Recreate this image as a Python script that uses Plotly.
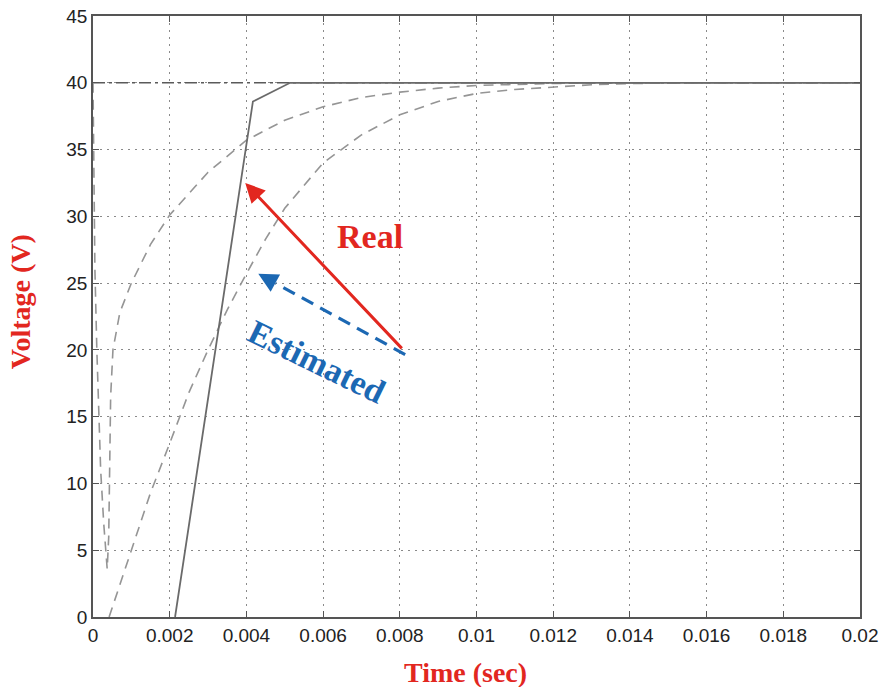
import plotly.graph_objects as go

# Time axis ticks (s) and voltage ticks (V)
x_ticks = [0, 0.002, 0.004, 0.006, 0.008, 0.01, 0.012, 0.014, 0.016, 0.018, 0.02]
x_tick_text = ["0", "0.002", "0.004", "0.006", "0.008", "0.01", "0.012", "0.014", "0.016", "0.018", "0.02"]
y_ticks = [0, 5, 10, 15, 20, 25, 30, 35, 40, 45]

# Reference voltage level
ref_t = [0, 0.02]
ref_v = [40, 40]

# Real output voltage
real_t = [0.00214, 0.00417, 0.00514, 0.02]
real_v = [0, 38.6, 40, 40]

# Fast estimate (with initial transient dip)
est1_t = [0.0, 0.00002, 0.00005, 0.0001, 0.00015, 0.0002, 0.00028, 0.00037, 0.00041,
          0.00043, 0.00046, 0.00052, 0.0007, 0.001, 0.0015, 0.002, 0.003, 0.004,
          0.005, 0.006, 0.007, 0.008, 0.009, 0.01, 0.012, 0.014, 0.02]
est1_v = [40, 33, 26, 20, 15, 11, 7, 3.6, 6,
          12, 16.5, 20, 22.8, 25, 27.9, 30.1, 33.3, 35.7,
          37.2, 38.2, 38.9, 39.3, 39.6, 39.8, 39.95, 40, 40]

# Slow estimate
est2_t = [0.00042, 0.001, 0.0015, 0.002, 0.0025, 0.003, 0.0035, 0.004, 0.0045, 0.005,
          0.006, 0.007, 0.008, 0.009, 0.01, 0.011, 0.012, 0.013, 0.014, 0.016, 0.02]
est2_v = [0, 5.0, 9.3, 13.0, 16.8, 20.0, 23.0, 25.7, 28.3, 30.6,
          34.0, 36.1, 37.6, 38.6, 39.2, 39.5, 39.7, 39.85, 39.95, 40, 40]

# Pointer arrows: (tail, head)
real_arrow_tail = (0.00809, 20.0)
real_arrow_head = (0.00397, 32.5)
est_arrow_tail = (0.00814, 19.65)
est_arrow_head = (0.00431, 25.7)

# Label anchors
real_label = (0.00723, 28.5)
est_label = (0.00582, 19.1)

RED = "#e2271f"
BLUE = "#1c68b3"
SERIF = "Liberation Serif"
SANS = "Liberation Sans"

fig = go.Figure()

fig.add_trace(go.Scatter(x=ref_t, y=ref_v, mode="lines",
                         line=dict(color="#5a5a5a", width=1.6, dash="12px,4px,3px,4px"),
                         hoverinfo="skip", showlegend=False))
fig.add_trace(go.Scatter(x=est1_t, y=est1_v, mode="lines",
                         line=dict(color="#959595", width=1.6, dash="10px,7px"),
                         hoverinfo="skip", showlegend=False))
fig.add_trace(go.Scatter(x=est2_t, y=est2_v, mode="lines",
                         line=dict(color="#959595", width=1.6, dash="10px,7px"),
                         hoverinfo="skip", showlegend=False))
fig.add_trace(go.Scatter(x=real_t, y=real_v, mode="lines",
                         line=dict(color="#6a6a6a", width=1.8),
                         hoverinfo="skip", showlegend=False))

# Dashed shaft of the estimated-voltage pointer, stopping short of its head
frac = 0.88
shaft_end = (est_arrow_tail[0] + frac * (est_arrow_head[0] - est_arrow_tail[0]),
             est_arrow_tail[1] + frac * (est_arrow_head[1] - est_arrow_tail[1]))
fig.add_trace(go.Scatter(x=[est_arrow_tail[0], shaft_end[0]], y=[est_arrow_tail[1], shaft_end[1]],
                         mode="lines", line=dict(color=BLUE, width=3.2, dash="13px,8px"),
                         hoverinfo="skip", showlegend=False))

annotations = [
    dict(x=real_arrow_head[0], y=real_arrow_head[1], ax=real_arrow_tail[0], ay=real_arrow_tail[1],
         xref="x", yref="y", axref="x", ayref="y", text="", showarrow=True,
         arrowhead=2, arrowsize=1.3, arrowwidth=3, arrowcolor=RED),
    dict(x=est_arrow_head[0], y=est_arrow_head[1], ax=shaft_end[0], ay=shaft_end[1],
         xref="x", yref="y", axref="x", ayref="y", text="", showarrow=True,
         arrowhead=2, arrowsize=1.3, arrowwidth=3, arrowcolor=BLUE),
    dict(x=real_label[0], y=real_label[1], xref="x", yref="y", text="<b>Real</b>",
         showarrow=False, font=dict(family=SERIF, size=34, color=RED)),
    dict(x=est_label[0], y=est_label[1], xref="x", yref="y", text="<b>Estimated</b>",
         showarrow=False, textangle=26, font=dict(family=SERIF, size=34, color=BLUE)),
    dict(x=0.486, y=-0.092, xref="paper", yref="paper", text="<b>Time (sec)</b>",
         xanchor="center", yanchor="middle",
         showarrow=False, font=dict(family=SERIF, size=28, color=RED)),
    dict(x=-0.095, y=0.524, xref="paper", yref="paper", text="<b>Voltage (V)</b>",
         xanchor="center", yanchor="middle",
         showarrow=False, textangle=-90, font=dict(family=SERIF, size=28, color=RED)),
]

axis_common = dict(
    showline=True, linecolor="#555555", linewidth=1.5, mirror="allticks",
    ticks="inside", ticklen=6, tickcolor="#555555", tickwidth=1.2,
    showgrid=True, gridcolor="#8a8a8a", gridwidth=1, griddash="2px,5px",
    zeroline=False, automargin=False,
    tickfont=dict(family=SANS, size=19, color="#222222"),
)

fig.update_layout(
    width=881, height=687,
    margin=dict(l=93, r=21, t=16, b=70, autoexpand=False),
    paper_bgcolor="white", plot_bgcolor="white",
    xaxis=dict(range=[0, 0.02], tickvals=x_ticks, ticktext=x_tick_text, **axis_common),
    yaxis=dict(range=[0, 45], tickvals=y_ticks, **axis_common),
    annotations=annotations,
    showlegend=False,
)

fig.write_html("out.html")
